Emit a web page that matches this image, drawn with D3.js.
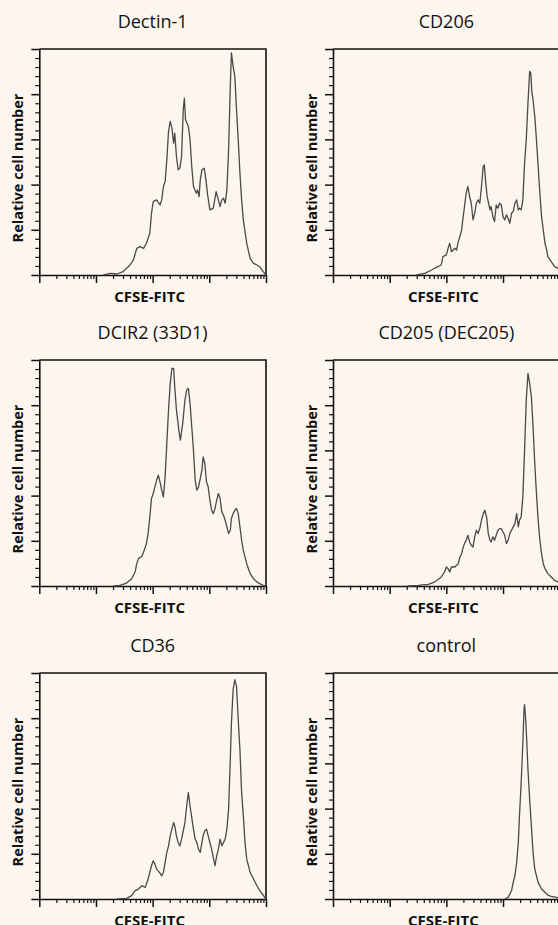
<!DOCTYPE html>
<html>
<head>
<meta charset="utf-8">
<script src="https://cdn.jsdelivr.net/npm/d3@7"></script>
<style>
  body { margin: 0; background: #fdf6ee; }
  svg { display: block; }
</style>
</head>
<body>
<div id="chart"></div>
<script>
// panel titles, in reading order
const titles = ['Dectin-1', 'CD206', 'DCIR2 (33D1)', 'CD205 (DEC205)', 'CD36', 'control'];

// histogram traces: [log10 CFSE intensity, relative cell number]
const dectin1 = [
  [1.13, 0], [1.25, 1.8], [1.37, 1.1], [1.48, 3.7], [1.6, 11.1], [1.66, 16.6], [1.72, 29.5],
  [1.78, 31.4], [1.84, 29.5], [1.89, 35.1], [1.95, 46.2], [1.98, 68.3], [2.01, 81.2],
  [2.07, 83.1], [2.13, 77.5], [2.16, 83.1], [2.19, 97.9], [2.22, 103.4], [2.25, 127.4],
  [2.28, 158.8], [2.31, 169.9], [2.34, 162.5], [2.37, 145.9], [2.39, 156.9], [2.42, 131.1],
  [2.45, 116.3], [2.48, 118.2], [2.51, 131.1], [2.54, 182.8], [2.56, 195.7], [2.58, 171.7],
  [2.63, 164.3], [2.66, 149.6], [2.69, 120], [2.72, 97.9], [2.77, 90.5], [2.79, 94.2],
  [2.82, 86.8], [2.84, 105.2], [2.87, 116.3], [2.91, 118.2], [2.94, 105.2], [2.97, 88.6],
  [3.01, 72], [3.07, 73.9], [3.12, 92.3], [3.16, 83.1], [3.19, 75.7], [3.22, 83.1],
  [3.25, 84.9], [3.28, 79.4], [3.31, 94.2], [3.34, 138.5], [3.37, 208.6], [3.39, 245.6],
  [3.42, 230.8], [3.45, 219.7], [3.48, 182.8], [3.51, 149.6], [3.54, 112.6], [3.57, 83.1],
  [3.6, 60.9], [3.66, 35.1], [3.72, 18.5], [3.78, 12.9], [3.84, 11.1], [3.89, 9.2],
  [3.95, 3.7], [4.0, 0]
];
const cd206 = [
  [1.47, 0], [1.62, 1.8], [1.74, 5.5], [1.79, 7.4], [1.85, 9.2], [1.91, 11.1], [1.94, 20.3],
  [2.0, 22.2], [2.03, 29.5], [2.06, 35.1], [2.09, 25.8], [2.15, 29.5], [2.18, 27.7],
  [2.21, 36.9], [2.24, 42.5], [2.27, 49.9], [2.29, 60.9], [2.32, 75.7], [2.35, 90.5],
  [2.38, 97.9], [2.41, 86.8], [2.44, 79.4], [2.47, 60.9], [2.5, 68.3], [2.53, 79.4],
  [2.56, 83.1], [2.59, 79.4], [2.62, 97.9], [2.65, 120], [2.67, 121.9], [2.69, 105.2],
  [2.72, 86.8], [2.77, 72], [2.79, 75.7], [2.82, 64.6], [2.85, 59.1], [2.88, 77.5],
  [2.91, 73.9], [2.94, 79.4], [2.97, 77.5], [3.0, 64.6], [3.03, 60.9], [3.06, 66.5],
  [3.09, 62.8], [3.12, 57.2], [3.15, 68.3], [3.18, 70.2], [3.21, 79.4], [3.24, 83.1],
  [3.27, 72], [3.29, 73.9], [3.32, 72], [3.35, 83.1], [3.38, 123.7], [3.41, 149.6],
  [3.44, 190.2], [3.47, 225.3], [3.49, 223.4], [3.51, 201.3], [3.53, 193.9], [3.56, 175.4],
  [3.59, 149.6], [3.62, 120], [3.65, 90.5], [3.68, 64.6], [3.71, 49.9], [3.74, 35.1],
  [3.77, 27.7], [3.79, 20.3], [3.85, 14.8], [3.91, 9.2], [3.97, 7.4], [4.0, 4]
];
const dcir2 = [
  [1.31, 0], [1.42, 0.7], [1.54, 3.3], [1.63, 8.1], [1.69, 15.5], [1.72, 24.7], [1.75, 30.3],
  [1.81, 32.9], [1.84, 37.7], [1.89, 46.9], [1.92, 58], [1.95, 76.4], [1.98, 96.8],
  [2.01, 102.3], [2.04, 109.7], [2.07, 117.1], [2.1, 122.6], [2.13, 115.2], [2.16, 106],
  [2.19, 98.6], [2.22, 120.8], [2.25, 157.7], [2.28, 194.6], [2.31, 224.1], [2.34, 240.8],
  [2.37, 240.8], [2.39, 220.5], [2.42, 194.6], [2.47, 168.8], [2.49, 161.4], [2.53, 179.8],
  [2.57, 205.7], [2.6, 216.8], [2.63, 218.6], [2.66, 202], [2.69, 176.1], [2.72, 150.3],
  [2.75, 117.1], [2.78, 106], [2.81, 109.7], [2.84, 118.9], [2.87, 128.1], [2.89, 142.9],
  [2.92, 135.5], [2.95, 115.2], [2.98, 109.7], [3.01, 94.9], [3.04, 83.8], [3.07, 80.1],
  [3.1, 85.7], [3.13, 94.9], [3.16, 102.3], [3.19, 96.8], [3.22, 82], [3.25, 78.3],
  [3.28, 72.7], [3.31, 65.4], [3.34, 58], [3.37, 61.7], [3.39, 74.6], [3.42, 80.1],
  [3.45, 83.8], [3.48, 85.7], [3.51, 80.1], [3.54, 65.4], [3.57, 50.6], [3.6, 39.5],
  [3.66, 24.7], [3.72, 13.7], [3.78, 8.1], [3.84, 4.4], [3.89, 2.6], [3.95, 0.7], [4.0, 0]
];
const cd205 = [
  [1.32, 0], [1.5, 0.7], [1.68, 1.8], [1.79, 4.4], [1.85, 7], [1.91, 10], [1.97, 15.5],
  [2.0, 21], [2.03, 19.2], [2.06, 15.5], [2.09, 21], [2.15, 21], [2.21, 24.7], [2.24, 32.1],
  [2.27, 35.8], [2.29, 41.4], [2.32, 46.9], [2.35, 50.6], [2.38, 56.1], [2.41, 48.7],
  [2.44, 45.1], [2.47, 43.2], [2.5, 54.3], [2.53, 61.7], [2.56, 58], [2.59, 63.5],
  [2.62, 72.7], [2.65, 80.1], [2.68, 83.8], [2.71, 76.4], [2.74, 58], [2.77, 50.6],
  [2.79, 48.7], [2.82, 54.3], [2.85, 50.6], [2.88, 56.1], [2.91, 61.7], [2.94, 63.5],
  [2.97, 63.5], [3.0, 59.8], [3.03, 56.1], [3.06, 46.9], [3.09, 50.6], [3.12, 58],
  [3.15, 61.7], [3.18, 65.4], [3.21, 69.1], [3.24, 80.1], [3.27, 65.4], [3.29, 72.7],
  [3.32, 76.4], [3.35, 98.6], [3.38, 150.3], [3.41, 205.7], [3.44, 235.2], [3.47, 224.1],
  [3.5, 209.4], [3.53, 176.1], [3.56, 135.5], [3.59, 102.3], [3.62, 72.7], [3.65, 50.6],
  [3.68, 35.8], [3.71, 24.7], [3.74, 19.2], [3.79, 13.7], [3.85, 10], [3.91, 6.3],
  [3.97, 4.4], [4.0, 2.6]
];
const cd36 = [
  [1.37, 0], [1.54, 0.7], [1.63, 3.7], [1.69, 9.2], [1.75, 11], [1.81, 14.7], [1.87, 12.9],
  [1.92, 22.1], [1.98, 36.8], [2.01, 42.3], [2.04, 38.6], [2.07, 33.1], [2.12, 29.4],
  [2.16, 25.7], [2.19, 29.4], [2.22, 40.4], [2.25, 51.5], [2.28, 58.8], [2.31, 69.9],
  [2.34, 77.2], [2.37, 84.6], [2.39, 80.9], [2.42, 69.9], [2.45, 62.5], [2.48, 58.8],
  [2.51, 66.2], [2.54, 75.4], [2.57, 84.6], [2.6, 102.9], [2.63, 117.6], [2.66, 102.9],
  [2.69, 90.1], [2.72, 77.2], [2.75, 66.2], [2.78, 62.5], [2.81, 55.1], [2.84, 51.5],
  [2.87, 62.5], [2.89, 69.9], [2.92, 75.4], [2.95, 77.2], [2.98, 69.9], [3.01, 62.5],
  [3.04, 55.1], [3.07, 46], [3.1, 36.8], [3.13, 47.8], [3.16, 55.1], [3.19, 66.2],
  [3.22, 58.8], [3.25, 62.5], [3.28, 66.2], [3.31, 77.2], [3.34, 99.3], [3.37, 154.4],
  [3.39, 194.9], [3.42, 231.6], [3.45, 242.6], [3.48, 235.3], [3.51, 198.5], [3.54, 165.4],
  [3.57, 117.6], [3.6, 91.9], [3.63, 62.5], [3.66, 44.1], [3.69, 36.8], [3.72, 29.4],
  [3.78, 22.1], [3.84, 14.7], [3.89, 9.2], [3.95, 4.4], [4.0, 0]
];
const control = [
  [3.03, 0], [3.09, 1.8], [3.15, 9.2], [3.18, 18.4], [3.21, 25.7], [3.24, 40.4], [3.27, 62.5],
  [3.29, 91.9], [3.32, 128.7], [3.35, 172.8], [3.37, 209.6], [3.38, 215.1], [3.4, 198.5],
  [3.42, 172.8], [3.44, 143.4], [3.47, 110.3], [3.5, 80.9], [3.53, 51.5], [3.56, 33.1],
  [3.59, 25.7], [3.62, 18.4], [3.68, 11], [3.74, 7.4], [3.79, 4.4], [3.85, 2.9], [3.97, 1.5]
];
const series = [dectin1, cd206, dcir2, cd205, cd36, control];

// axis ticks
const xMajor = [1, 10, 100, 1000, 10000];
const yMajor = [0, 50, 100, 150, 200, 250];
const yMinor = [10, 20, 30, 40, 60, 70, 80, 90, 110, 120, 130, 140, 160, 170, 180, 190, 210, 220, 230, 240];

const xLabel = 'CFSE-FITC';
const yLabel = 'Relative cell number';

const W = 558, H = 925;
const colX = [39.3, 333];
const rowY = [49, 360, 673];
const plotW = 226.7, plotH = 226;

const svg = d3.select('#chart').append('svg')
  .attr('width', W)
  .attr('height', H);

svg.append('rect')
  .attr('width', W)
  .attr('height', H)
  .attr('fill', '#fdf6ee');

series.forEach((data, i) => {
  const g = svg.append('g')
    .attr('transform', `translate(${colX[i % 2]},${rowY[Math.floor(i / 2)]})`);

  const x = d3.scaleLog().domain([1, 1e4]).range([0, plotW]);
  const y = d3.scaleLinear().domain([0, 250]).range([plotH, 0]);

  const xMinor = x.ticks().filter((t) => !xMajor.includes(t));

  // minor ticks
  g.append('g')
    .attr('class', 'minor')
    .attr('transform', `translate(0,${plotH})`)
    .call(d3.axisBottom(x).tickValues(xMinor).tickSize(4).tickFormat(''));
  g.append('g')
    .attr('class', 'minor')
    .call(d3.axisLeft(y).tickValues(yMinor).tickSize(4).tickFormat(''));

  // major ticks + axis lines
  g.append('g')
    .attr('class', 'major')
    .attr('transform', `translate(0,${plotH})`)
    .call(d3.axisBottom(x).tickValues(xMajor).tickSize(8).tickSizeOuter(0).tickFormat(''));
  g.append('g')
    .attr('class', 'major')
    .call(d3.axisLeft(y).tickValues(yMajor).tickSize(8).tickSizeOuter(0).tickFormat(''));

  g.selectAll('.minor .domain').remove();
  g.selectAll('.minor line').attr('stroke', '#111').attr('stroke-width', 1.2);
  g.selectAll('.major line').attr('stroke', '#111').attr('stroke-width', 1.5);
  g.selectAll('.major .domain').attr('stroke', '#111').attr('stroke-width', 1.6);

  // top and right frame
  g.append('path')
    .attr('d', `M0,0H${plotW}V${plotH}`)
    .attr('fill', 'none')
    .attr('stroke', '#111')
    .attr('stroke-width', 1.6);

  // histogram
  g.append('path')
    .datum(data)
    .attr('fill', 'none')
    .attr('stroke', '#4a4a4a')
    .attr('stroke-width', 1.3)
    .attr('stroke-linejoin', 'round')
    .attr('d', d3.line()
      .x((d) => x(10 ** d[0]))
      .y((d) => y(d[1])));

  // title
  g.append('text')
    .attr('x', plotW / 2)
    .attr('y', -21.5)
    .attr('text-anchor', 'middle')
    .style('font-family', '"Open Sans", sans-serif')
    .style('font-size', '18px')
    .style('fill', '#111')
    .text(titles[i]);

  // x label
  g.append('text')
    .attr('x', plotW / 2 - 3)
    .attr('y', plotH + 26.5)
    .attr('text-anchor', 'middle')
    .style('font-family', '"Open Sans", sans-serif')
    .style('font-size', '15px')
    .style('font-weight', 'bold')
    .style('fill', '#111')
    .text(xLabel);

  // y label
  g.append('text')
    .attr('transform', `translate(-21.5,${plotH / 2 + 6}) rotate(-90)`)
    .attr('text-anchor', 'middle')
    .attr('dy', '0.35em')
    .style('font-family', '"Open Sans", sans-serif')
    .style('font-size', '14.5px')
    .style('font-weight', 'bold')
    .style('fill', '#111')
    .text(yLabel);
});
</script>
</body>
</html>
